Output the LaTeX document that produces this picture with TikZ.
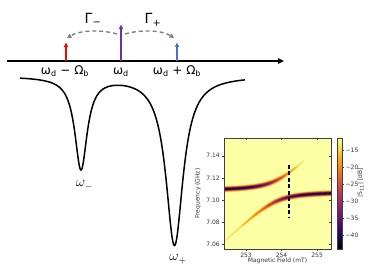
\documentclass[tikz,border=0pt]{standalone}
\usepackage{fontspec}
\usetikzlibrary{arrows.meta}
\newfontfamily\dvs{DejaVu Sans}
\definecolor{myred}{RGB}{255,0,0}
\definecolor{mypurple}{RGB}{112,48,160}
\definecolor{myblue}{RGB}{68,114,196}
\definecolor{arcgray}{RGB}{128,128,128}
\definecolor{framecol}{RGB}{64,64,64}
\definecolor{inf0}{RGB}{0,0,4}
\definecolor{inf1}{RGB}{22,11,57}
\definecolor{inf2}{RGB}{66,10,104}
\definecolor{inf3}{RGB}{106,23,110}
\definecolor{inf4}{RGB}{147,38,103}
\definecolor{inf5}{RGB}{188,55,84}
\definecolor{inf6}{RGB}{221,81,58}
\definecolor{inf7}{RGB}{243,120,25}
\definecolor{inf8}{RGB}{252,165,10}
\definecolor{inf9}{RGB}{246,215,70}
\definecolor{inf10}{RGB}{252,255,164}
% band colours (value levels)
\definecolor{bnd13}{RGB}{247,222,95}
\definecolor{bnd16}{RGB}{251,173,19}
\definecolor{bnd19}{RGB}{245,130,22}
\definecolor{bnd22}{RGB}{228,93,48}
\definecolor{bnd25}{RGB}{201,65,74}
\definecolor{bnd28}{RGB}{166,46,94}
\definecolor{bnd31}{RGB}{128,31,106}
\definecolor{bnd34}{RGB}{91,18,106}
\definecolor{bnd37}{RGB}{52,10,90}
\definecolor{bnd40}{RGB}{17,8,45}
\definecolor{bnd43}{RGB}{3,2,11}
\pgfdeclareverticalshading{infernobar}{100bp}{color(0bp)=(inf0); color(25bp)=(inf0); color(30bp)=(inf1); color(35bp)=(inf2); color(40bp)=(inf3); color(45bp)=(inf4); color(50bp)=(inf5); color(55bp)=(inf6); color(60bp)=(inf7); color(65bp)=(inf8); color(70bp)=(inf9); color(75bp)=(inf10); color(100bp)=(inf10)}
\tikzset{
  axisline/.style={line width=1.6pt, -{Triangle[length=6pt,width=5.5pt]}},
  freqarrow/.style={line width=1.3pt, -{Triangle[length=4.5pt,width=4pt]}},
  ratearc/.style={arcgray, line width=1.4pt, dash pattern=on 4pt off 3pt, -{Triangle[length=4.5pt,width=4.5pt]}},
  flabel/.style={font=\dvs\fontsize{12}{14}\selectfont, anchor=base, inner sep=0pt},
  glabel/.style={font=\dvs\fontsize{14}{16}\selectfont, anchor=base, inner sep=0pt},
  mlabel/.style={font=\fontsize{14}{16}\selectfont, anchor=base, inner sep=0pt},
  spec/.style={line width=1.5pt, line join=round},
  plottext/.style={font=\dvs\fontsize{6}{7}\selectfont, text=black!80, inner sep=0pt},
  frame/.style={framecol, line width=0.5pt},
  tickmark/.style={framecol, line width=0.5pt},
  dashmark/.style={black, line width=1.2pt, dash pattern=on 4pt off 2.5pt},
}
% one colour band of the heat map: #1 level, #2 cavity fraction, #3 branch frequency (both in \xx)
\newcommand\hmband[3]{%
  \gdef\hmup{}\gdef\hmlo{}%
  \foreach \i in {0,...,60} {%
    \pgfmathsetmacro\xx{\i*3.01/60}%
    \pgfmathsetmacro\cc{#2}%
    \pgfmathsetmacro\ww{#3}%
    \pgfmathsetmacro\hh{hw(\cc,\ww,#1)}%
    \ifdim\hh pt>0.02pt
      \pgfmathsetmacro\yu{44+\ww+\hh}\pgfmathsetmacro\yl{44+\ww-\hh}%
      \xdef\hmup{\hmup(\xx,\yu)}\xdef\hmlo{(\xx,\yl)\hmlo}%
    \fi}%
  \ifx\hmup\empty\else\fill[bnd#1] plot coordinates {\hmup\hmlo} -- cycle;\fi}
\begin{document}
\begin{tikzpicture}[x=1pt,y=1pt,
  declare function={
    Ss(\X)=sqrt((43.4-30*\X)^2/4+88.36);
    wP(\X)=15*\X-13.7+Ss(\X);
    wN(\X)=15*\X-13.7-Ss(\X);
    cP(\X)=0.5*(1+(43.4-30*\X)/(2*Ss(\X)));
    Amp(\C,\F)=44*(\C)^0.37*(1-(1-\C)*0.0043*(\F+44));
    hw(\C,\F,\L)=(1.8+0.8*(1-\C))*sqrt(max(0,Amp(\C,\F)/\L-1));
  }]
\useasboundingbox (0,0) rectangle (374,280);
% frequency axis
\coordinate (ax0) at (7,219);
\coordinate (ax1) at (284,219);
\draw[axisline] (ax0) -- (ax1);
\coordinate (r0) at (66,219); \coordinate (r1) at (66,237.5);
\coordinate (p0) at (121,219); \coordinate (p1) at (121,255.5);
\coordinate (b0) at (177,219); \coordinate (b1) at (177,237.5);
\draw[freqarrow, myred] (r0) -- (r1);
\draw[freqarrow, mypurple] (p0) -- (p1);
\draw[freqarrow, myblue] (b0) -- (b1);
\node[flabel] (lm) at (65,205.5) {ω\textsubscript{d} − Ω\textsubscript{b}};
\node[flabel] (l0) at (121,205.5) {ω\textsubscript{d}};
\node[flabel] (lp) at (177,205.5) {ω\textsubscript{d} + Ω\textsubscript{b}};
% rate arcs
\coordinate (am0) at (117,246); \coordinate (am1) at (67,242);
\coordinate (ap0) at (125,246); \coordinate (ap1) at (174,242);
\draw[ratearc] (am0) .. controls (102,250.5) and (80,250) .. (am1);
\draw[ratearc] (ap0) .. controls (140,250.5) and (162,250) .. (ap1);
\node[glabel] (gm) at (93,256.5) {Γ\textsubscript{−}};
\node[glabel] (gp) at (153,256) {Γ\textsubscript{+}};
% spectrum
\draw[spec] plot[domain=20:81,samples=120] (\x,{204-92*0.5625/(((\x-81)/10)^2+0.5625)-169*1.1/(((\x-174.5)/10)^2+1.1)})
  -- plot[domain=81:174.5,samples=200] (\x,{204-92*0.5625/(((\x-81)/10)^2+0.5625)-169*1.1/(((\x-174.5)/10)^2+1.1)})
  -- plot[domain=174.5:245,samples=140] (\x,{204-92*0.5625/(((\x-81)/10)^2+0.5625)-169*1.1/(((\x-174.5)/10)^2+1.1)});
\node[mlabel] (wm) at (84.5,93) {$\omega_-$};
\node[mlabel] (wp) at (178,19) {$\omega_+$};
% heat map: b = B-252.38 (mT), F+44 with F = f-7.1 GHz in MHz
\begin{scope}[shift={(224,31)}, x=35.548pt, y=1.11pt]
  \fill[inf10] (0,0) rectangle (3.01,100);
  \begin{scope}
    \clip (0,0) rectangle (3.01,100);
    \foreach \lv in {13,16,19,22,25,28,31,34,37,40,43} {
      \hmband{\lv}{cP(\xx)}{wP(\xx)}
      \hmband{\lv}{1-cP(\xx)}{wN(\xx)}
    }
  \end{scope}
  \coordinate (dtop) at (1.83,75.8);
  \coordinate (dbot) at (1.83,28.5);
  \draw[dashmark] (dtop) -- (dbot);
  \draw[frame] (0,0) rectangle (3.01,100);
  % x ticks
  \foreach \b/\t in {0.62/253,1.62/254,2.62/255} {
    \draw[tickmark] (\b,0) -- ++(0,-2.5pt);
    \draw[tickmark] (\b,100) -- ++(0,-2pt);
    \node[plottext, anchor=north] (xt\t) at ([yshift=-3.6pt]\b,0) {\t};
  }
  % y ticks
  \foreach \v/\t in {4/7.06,24/7.08,44/7.10,64/7.12,84/7.14} {
    \draw[tickmark] (0,\v) -- ++(-2.5pt,0);
    \draw[tickmark] (3.01,\v) -- ++(-2pt,0);
    \node[plottext, anchor=east] (yt\t) at ([xshift=-4pt]0,\v) {\t};
  }
\end{scope}
% colour bar
\shade[shading=infernobar] (337.5,31) rectangle (342,142);
\draw[frame] (337.5,31) rectangle (342,142);
\foreach \v/\t in {-40/−40,-35/−35,-30/−30,-25/−25,-20/−20,-15/−15} {
  \draw[tickmark] (342,{31+(\v+44)*111/32.5}) -- ++(2pt,0);
  \node[plottext, anchor=west] (ct\v) at (345.5,{31+(\v+44)*111/32.5}) {\t};
}
\node[plottext, rotate=90] (ylab) at (198,86.5) {Frequency (GHz)};
\node[plottext] (xlab) at (277.5,19) {Magnetic Field (mT)};
\node[plottext, rotate=90] (clab) at (360.5,97) {|S\textsubscript{11}| [dB]};
\end{tikzpicture}
\end{document}
